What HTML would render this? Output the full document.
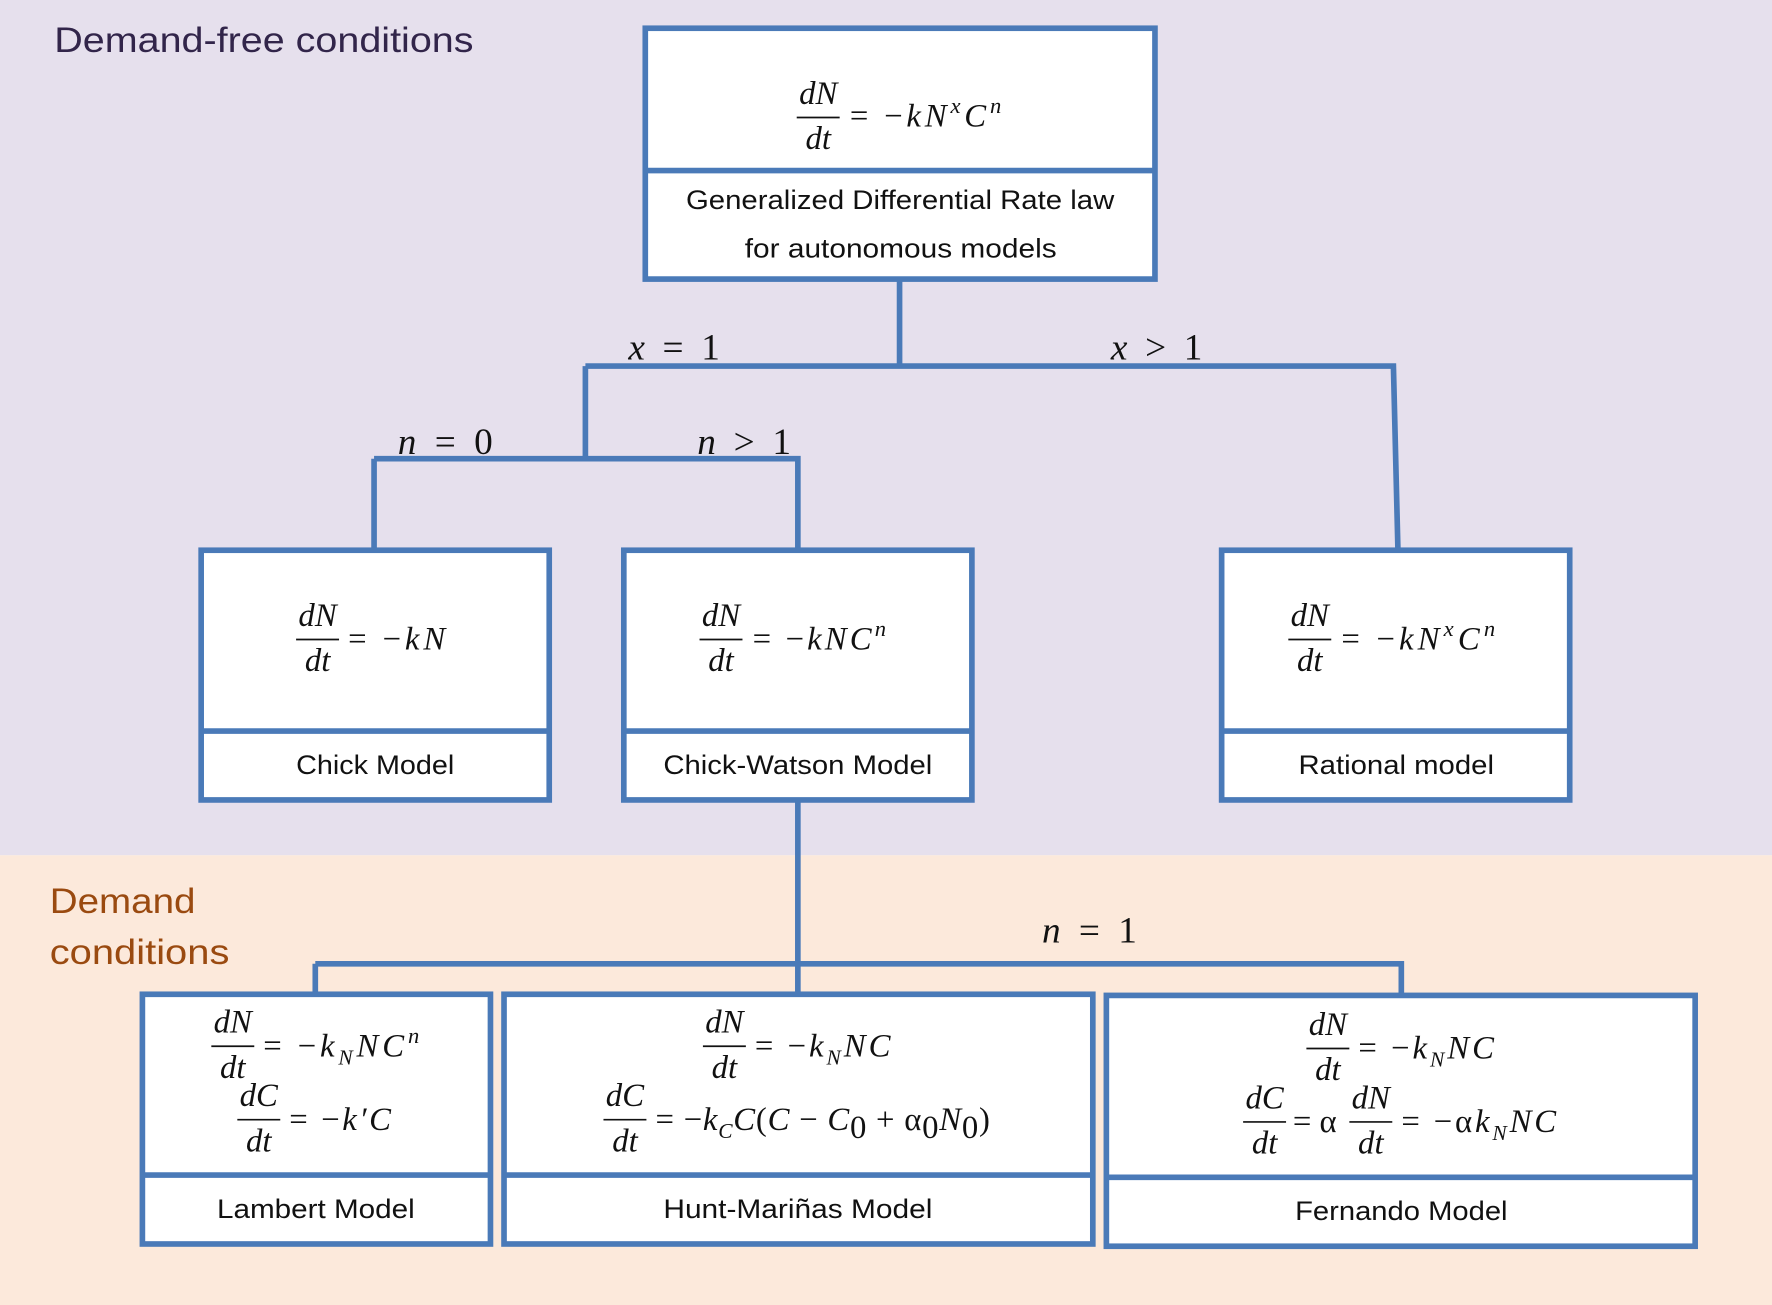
<!DOCTYPE html>
<html><head><meta charset="utf-8"><style>
html,body{margin:0;padding:0;width:1772px;height:1305px;overflow:hidden}
svg{display:block}
.m{font-family:"Liberation Serif",serif;font-style:italic;font-size:29px;fill:#111}
.u{font-family:"Liberation Serif",serif;font-style:normal;font-size:29px;fill:#111}
.c{font-family:"Liberation Serif",serif;font-style:italic;font-size:33px;fill:#111}
.cu{font-style:normal}
.s{font-family:"Liberation Sans",sans-serif;font-size:24px;fill:#111}
.b{fill:#fff;stroke:#4A7AB8;stroke-width:5}
.l{stroke:#4A7AB8;stroke-width:5;fill:none}
</style></head><body>
<svg width="1772" height="1305" viewBox="0 0 1568 1155" preserveAspectRatio="none" xmlns="http://www.w3.org/2000/svg">
<rect x="0" y="0" width="1568" height="757" fill="#E6E0ED"/>
<rect x="0" y="757" width="1568" height="398" fill="#FCE9DB"/>
<text x="48" y="46" font-family="Liberation Sans,sans-serif" font-size="31" fill="#32254A" textLength="371" lengthAdjust="spacingAndGlyphs">Demand-free conditions</text>
<text x="44" y="808" font-family="Liberation Sans,sans-serif" font-size="31" fill="#9A4A10" textLength="129" lengthAdjust="spacingAndGlyphs">Demand</text>
<text x="44" y="853" font-family="Liberation Sans,sans-serif" font-size="31" fill="#9A4A10" textLength="159" lengthAdjust="spacingAndGlyphs">conditions</text>

<path class="l" d="M796 247V324M518 324H1233L1237 487M518 324V406M331 406H706V487M331 406V487"/>
<path class="l" d="M706 708V880M279 853H1240V881M279 853V880"/>

<text class="c" x="556" y="318" textLength="81">x <tspan class="cu">= 1</tspan></text>
<text class="c" x="983" y="318" textLength="81">x <tspan class="cu">&gt; 1</tspan></text>
<text class="c" x="352" y="402" textLength="84">n <tspan class="cu">= 0</tspan></text>
<text class="c" x="617" y="402" textLength="83">n <tspan class="cu">&gt; 1</tspan></text>
<text class="c" x="922" y="834" textLength="84">n <tspan class="cu">= 1</tspan></text>

<rect class="b" x="571" y="25" width="451" height="222"/>
<line class="l" x1="571" y1="151" x2="1022" y2="151"/>
<text class="m" x="724" y="92" text-anchor="middle">dN</text>
<line x1="705" y1="104" x2="743" y2="104" stroke="#111" stroke-width="1.5"/>
<text class="m" x="724" y="132" text-anchor="middle">dt</text>
<text class="m" x="752" y="112" textLength="134"><tspan class="u">= −</tspan>kN<tspan dy="-12" font-size="20">x</tspan><tspan dy="12">C</tspan><tspan dy="-12" font-size="20">n</tspan></text>
<text class="s" x="607" y="185" textLength="379" lengthAdjust="spacingAndGlyphs">Generalized Differential Rate law</text>
<text class="s" x="659" y="228" textLength="276" lengthAdjust="spacingAndGlyphs">for autonomous models</text>

<rect class="b" x="178" y="487" width="308" height="221"/>
<line class="l" x1="178" y1="647" x2="486" y2="647"/>
<text class="m" x="281" y="554" text-anchor="middle">dN</text>
<line x1="262" y1="566" x2="300" y2="566" stroke="#111" stroke-width="1.5"/>
<text class="m" x="281" y="594" text-anchor="middle">dt</text>
<text class="m" x="308" y="575" textLength="86"><tspan class="u">= −</tspan>kN</text>
<text class="s" x="262" y="685" textLength="140" lengthAdjust="spacingAndGlyphs">Chick Model</text>

<rect class="b" x="552" y="487" width="308" height="221"/>
<line class="l" x1="552" y1="647" x2="860" y2="647"/>
<text class="m" x="638" y="554" text-anchor="middle">dN</text>
<line x1="619" y1="566" x2="657" y2="566" stroke="#111" stroke-width="1.5"/>
<text class="m" x="638" y="594" text-anchor="middle">dt</text>
<text class="m" x="666" y="575" textLength="118"><tspan class="u">= −</tspan>kNC<tspan dy="-12" font-size="20">n</tspan></text>
<text class="s" x="587" y="685" textLength="238" lengthAdjust="spacingAndGlyphs">Chick-Watson Model</text>

<rect class="b" x="1081" y="487" width="308" height="221"/>
<line class="l" x1="1081" y1="647" x2="1389" y2="647"/>
<text class="m" x="1159" y="554" text-anchor="middle">dN</text>
<line x1="1140" y1="566" x2="1178" y2="566" stroke="#111" stroke-width="1.5"/>
<text class="m" x="1159" y="594" text-anchor="middle">dt</text>
<text class="m" x="1187" y="575" textLength="136"><tspan class="u">= −</tspan>kN<tspan dy="-12" font-size="20">x</tspan><tspan dy="12">C</tspan><tspan dy="-12" font-size="20">n</tspan></text>
<text class="s" x="1149" y="685" textLength="173" lengthAdjust="spacingAndGlyphs">Rational model</text>

<rect class="b" x="126" y="880" width="308" height="221"/>
<line class="l" x1="126" y1="1040" x2="434" y2="1040"/>
<text class="m" x="206" y="914" text-anchor="middle">dN</text>
<line x1="187" y1="926" x2="225" y2="926" stroke="#111" stroke-width="1.5"/>
<text class="m" x="206" y="954" text-anchor="middle">dt</text>
<text class="m" x="233" y="935" textLength="138"><tspan class="u">= −</tspan>k<tspan dy="7" font-size="19">N</tspan><tspan dy="-7">NC</tspan><tspan dy="-12" font-size="20">n</tspan></text>
<text class="m" x="229" y="979" text-anchor="middle">dC</text>
<line x1="210" y1="991" x2="248" y2="991" stroke="#111" stroke-width="1.5"/>
<text class="m" x="229" y="1019" text-anchor="middle">dt</text>
<text class="m" x="256" y="1000" textLength="90"><tspan class="u">= −</tspan>k′C</text>
<text class="s" x="192" y="1078" textLength="175" lengthAdjust="spacingAndGlyphs">Lambert Model</text>

<rect class="b" x="446" y="880" width="521" height="221"/>
<line class="l" x1="446" y1="1040" x2="967" y2="1040"/>
<text class="m" x="641" y="914" text-anchor="middle">dN</text>
<line x1="622" y1="926" x2="660" y2="926" stroke="#111" stroke-width="1.5"/>
<text class="m" x="641" y="954" text-anchor="middle">dt</text>
<text class="m" x="668" y="935" textLength="120"><tspan class="u">= −</tspan>k<tspan dy="7" font-size="19">N</tspan><tspan dy="-7">NC</tspan></text>
<text class="m" x="553" y="979" text-anchor="middle">dC</text>
<line x1="534" y1="991" x2="572" y2="991" stroke="#111" stroke-width="1.5"/>
<text class="m" x="553" y="1019" text-anchor="middle">dt</text>
<text class="m" x="580" y="1000" textLength="296"><tspan class="u">= −</tspan>k<tspan dy="7" font-size="19">C</tspan><tspan dy="-7">C</tspan><tspan class="u">(</tspan>C<tspan class="u"> − </tspan>C<tspan class="u" dy="7" font-size="19">0</tspan><tspan class="u" dy="-7"> + α</tspan><tspan class="u" dy="7" font-size="19">0</tspan><tspan dy="-7">N</tspan><tspan class="u" dy="7" font-size="19">0</tspan><tspan class="u" dy="-7">)</tspan></text>
<text class="s" x="587" y="1078" textLength="238" lengthAdjust="spacingAndGlyphs">Hunt-Mariñas Model</text>

<rect class="b" x="979" y="881" width="521" height="222"/>
<line class="l" x1="979" y1="1042" x2="1500" y2="1042"/>
<text class="m" x="1175" y="916" text-anchor="middle">dN</text>
<line x1="1156" y1="928" x2="1194" y2="928" stroke="#111" stroke-width="1.5"/>
<text class="m" x="1175" y="956" text-anchor="middle">dt</text>
<text class="m" x="1202" y="937" textLength="120"><tspan class="u">= −</tspan>k<tspan dy="7" font-size="19">N</tspan><tspan dy="-7">NC</tspan></text>
<text class="m" x="1119" y="981" text-anchor="middle">dC</text>
<line x1="1100" y1="993" x2="1138" y2="993" stroke="#111" stroke-width="1.5"/>
<text class="m" x="1119" y="1021" text-anchor="middle">dt</text>
<text class="u" x="1144" y="1002">= α</text>
<text class="m" x="1213" y="981" text-anchor="middle">dN</text>
<line x1="1194" y1="993" x2="1232" y2="993" stroke="#111" stroke-width="1.5"/>
<text class="m" x="1213" y="1021" text-anchor="middle">dt</text>
<text class="m" x="1240" y="1002" textLength="137"><tspan class="u">= −α</tspan>k<tspan dy="7" font-size="19">N</tspan><tspan dy="-7">NC</tspan></text>
<text class="s" x="1146" y="1080" textLength="188" lengthAdjust="spacingAndGlyphs">Fernando Model</text>
</svg>
</body></html>
